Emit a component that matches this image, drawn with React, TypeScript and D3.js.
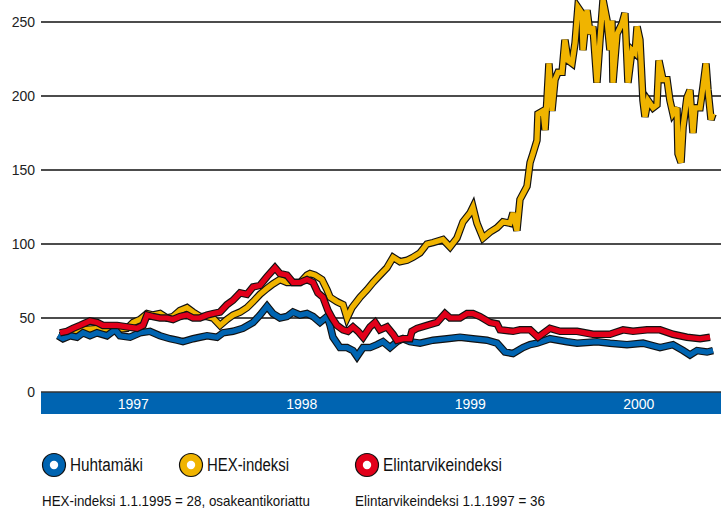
import React from "react";
import * as d3 from "d3";

// ---- Data (decimal years, index values) ----
const hexYears = [1997.065,1997.184,1997.303,1997.380,1997.463,1997.499,1997.540,1997.582,1997.617,1997.659,1997.700,1997.736,1997.777,1997.819,1997.855,1997.896,1997.938,1997.973,1998.015,1998.056,1998.092,1998.134,1998.175,1998.211,1998.252,1998.294,1998.329,1998.371,1998.412,1998.448,1998.490,1998.531,1998.549,1998.579,1998.620,1998.650,1998.668,1998.709,1998.745,1998.769,1998.798,1998.846,1998.887,1998.923,1998.964,1999.006,1999.042,1999.083,1999.125,1999.160,1999.202,1999.243,1999.279,1999.338,1999.380,1999.421,1999.457,1999.499,1999.516,1999.540,1999.576,1999.617,1999.659,1999.694,1999.736,1999.754,1999.777,1999.795,1999.837,1999.855,1999.872,1999.896,1999.902,1999.932,1999.944,1999.955,1999.967,1999.985,2000.003,2000.021,2000.045,2000.062,2000.080,2000.104,2000.122,2000.139,2000.163,2000.169,2000.193,2000.211,2000.228,2000.252,2000.270,2000.288,2000.312,2000.329,2000.341,2000.347,2000.371,2000.401,2000.418,2000.436,2000.460,2000.478,2000.490,2000.507,2000.525,2000.537,2000.555,2000.585,2000.608,2000.620,2000.644,2000.668,2000.685,2000.703,2000.727,2000.733,2000.751,2000.763,2000.786,2000.804,2000.822,2000.834,2000.864,2000.881,2000.899,2000.911,2000.929,2000.941];
const hexValues = [38,42,43,42,43,47,49,53,52,53,50,51,55,57,54,51,51,50,45,49,52,54,57,61,66,70,73,76,74,74,74,79,80,79,76,69,64,61,59,50,57,64,69,74,79,84,91,88,89,91,94,100,101,103,98,104,115,121,125,114,104,108,111,115,114,121,109,130,139,155,161,170,188,190,177,197,222,190,211,216,216,238,224,222,236,260,256,231,258,242,247,209,238,265,251,231,251,209,242,249,256,209,231,229,247,238,197,186,197,192,194,224,211,211,197,188,192,161,155,179,199,204,175,192,192,206,222,204,184,188];

const foodYears = [1997.065,1997.107,1997.142,1997.184,1997.243,1997.285,1997.320,1997.362,1997.404,1997.463,1997.522,1997.558,1997.582,1997.617,1997.659,1997.700,1997.736,1997.777,1997.819,1997.855,1997.896,1997.938,1997.973,1998.015,1998.056,1998.092,1998.134,1998.175,1998.211,1998.252,1998.294,1998.341,1998.371,1998.412,1998.448,1998.490,1998.531,1998.567,1998.596,1998.626,1998.656,1998.680,1998.709,1998.745,1998.774,1998.804,1998.834,1998.864,1998.905,1998.935,1998.964,1999.006,1999.042,1999.065,1999.101,1999.142,1999.154,1999.184,1999.243,1999.303,1999.350,1999.380,1999.439,1999.481,1999.516,1999.558,1999.617,1999.659,1999.677,1999.754,1999.795,1999.855,1999.902,1999.973,2000.033,2000.134,2000.228,2000.329,2000.407,2000.466,2000.549,2000.626,2000.703,2000.786,2000.864,2000.923];
const foodValues = [40,41,43,45,48,47,45,45,45,44,43,45,52,51,50,50,49,51,52,50,50,52,53,54,59,62,67,66,71,72,78,84,80,79,74,74,76,74,67,64,55,50,45,42,41,44,41,37,44,47,42,44,39,35,36,36,41,43,45,47,53,50,50,53,53,51,47,46,42,41,42,42,37,43,41,41,39,39,42,41,42,42,39,37,36,37];

const huhtaYears = [1997.053,1997.083,1997.125,1997.166,1997.202,1997.243,1997.285,1997.344,1997.392,1997.421,1997.481,1997.540,1997.599,1997.659,1997.718,1997.760,1997.795,1997.855,1997.896,1997.938,1997.997,1998.033,1998.092,1998.151,1998.211,1998.252,1998.294,1998.329,1998.371,1998.412,1998.448,1998.490,1998.531,1998.567,1998.608,1998.650,1998.668,1998.685,1998.727,1998.769,1998.804,1998.828,1998.864,1998.905,1998.947,1998.982,1999.024,1999.065,1999.101,1999.142,1999.202,1999.279,1999.362,1999.439,1999.516,1999.599,1999.659,1999.706,1999.754,1999.813,1999.855,1999.896,1999.973,2000.074,2000.134,2000.252,2000.329,2000.430,2000.525,2000.626,2000.703,2000.763,2000.804,2000.846,2000.905,2000.941];
const huhtaValues = [38,36,38,37,40,38,40,38,42,38,37,40,41,38,36,35,34,36,37,38,37,40,41,43,47,52,58,53,50,51,54,52,53,51,47,51,45,37,30,30,28,24,30,30,32,34,30,34,36,34,33,35,36,37,36,35,33,27,26,30,32,33,36,34,33,34,33,32,33,30,32,28,25,28,27,28];

const yTicks = [0, 50, 100, 150, 200, 250];
const yearLabels = [1997, 1998, 1999, 2000];
const legendNames = ["Huhtamäki", "HEX-indeksi", "Elintarvikeindeksi"];
const footnotes = ["HEX-indeksi 1.1.1995 = 28, osakeantikoriattu", "Elintarvikeindeksi 1.1.1997 = 36"];

const BLUE = "#0064b1";
const YELLOW = "#f0b400";
const RED = "#e2001a";
const SANS = "'Liberation Sans', Arial, sans-serif";

export default function App() {
  const W = 721, H = 510;
  const plotLeft = 41, plotRight = 721;
  const x = d3.scaleLinear().domain([1997, 2001]).range([49, 49 + 4 * 168.5]);
  const y = d3.scaleLinear().domain([0, 250]).range([392, 22]);

  const line = d3.line<[number, number]>().x(d => x(d[0])).y(d => y(d[1])).curve(d3.curveLinear);
  const mk = (ys: number[], vs: number[]) => ys.map((t, i) => [t, vs[i]] as [number, number]);

  const series = [
    { name: legendNames[1], color: YELLOW, d: line(mk(hexYears, hexValues)) },
    { name: legendNames[0], color: BLUE, d: line(mk(huhtaYears, huhtaValues)) },
    { name: legendNames[2], color: RED, d: line(mk(foodYears, foodValues)) },
  ];

  const legendColors = [BLUE, YELLOW, RED];
  const legendX = [54, 191, 367];
  const legendWidths = [73, 82, 119];

  return (
    <svg width={W} height={H} style={{ position: "absolute", left: 0, top: 0, background: "#fff" }}>
      {yTicks.filter(t => t > 0).map(t => (
        <line key={t} x1={plotLeft} x2={plotRight} y1={y(t)} y2={y(t)} stroke="#111" strokeWidth={1.4} />
      ))}
      {yTicks.map(t => (
        <text key={"l" + t} x={35} y={y(t)} dy="0.35em" textAnchor="end" fontFamily={SANS} fontSize={14} fill="#222">{t}</text>
      ))}
      <rect x={plotLeft} y={y(0)} width={plotRight - plotLeft} height={22} fill={BLUE} />
      <line x1={plotLeft} x2={plotRight} y1={y(0)} y2={y(0)} stroke="#333" strokeWidth={1.4} />
      {yearLabels.map(yr => (
        <text key={yr} x={x(yr + 0.5)} y={y(0) + 12} dy="0.35em" textAnchor="middle" fontFamily={SANS} fontSize={14} fill="#fff">{yr}</text>
      ))}
      {series.map(s => (
        <g key={s.name}>
          <path d={s.d || ""} fill="none" stroke="#111" strokeWidth={7.5} strokeLinejoin="miter" strokeMiterlimit={3} />
          <path d={s.d || ""} fill="none" stroke={s.color} strokeWidth={5.2} strokeLinejoin="miter" strokeMiterlimit={3} />
        </g>
      ))}
      {legendNames.map((n, i) => (
        <g key={n} transform={`translate(${legendX[i]},465)`}>
          <circle r={11.5} fill={legendColors[i]} stroke="#111" strokeWidth={1.2} />
          <circle r={4.2} fill="#fff" />
          <text x={16} y={0} dy="0.35em" fontFamily={SANS} fontSize={18} fill="#111"
            textLength={legendWidths[i]} lengthAdjust="spacingAndGlyphs">{n}</text>
        </g>
      ))}
      <text x={42} y={506} fontFamily={SANS} fontSize={14.5} fill="#111" textLength={268} lengthAdjust="spacingAndGlyphs">{footnotes[0]}</text>
      <text x={355} y={506} fontFamily={SANS} fontSize={14.5} fill="#111" textLength={190} lengthAdjust="spacingAndGlyphs">{footnotes[1]}</text>
    </svg>
  );
}
